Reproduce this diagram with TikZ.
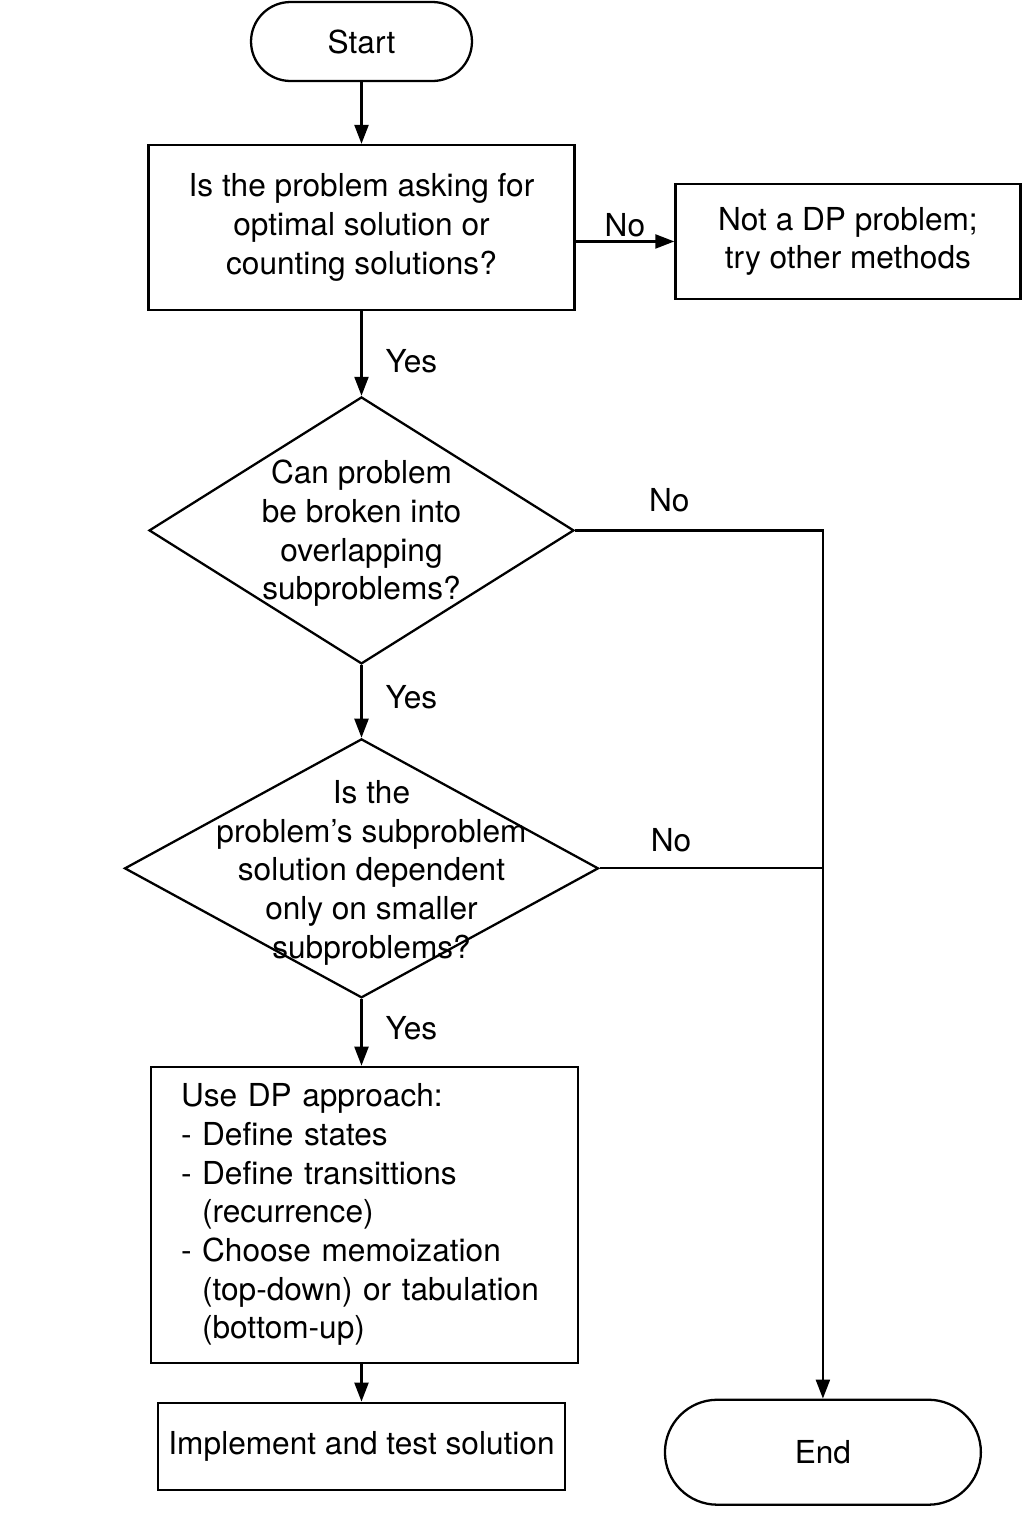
\documentclass[tikz,border=0pt]{standalone}
\usepackage{fontspec}
\setmainfont{TeX Gyre Heros}
\usetikzlibrary{positioning,shapes.geometric,arrows.meta}

\begin{document}
\begin{tikzpicture}[x=0.02cm,y=-0.02cm,line width=1.3pt,
    font=\fontsize{18}{22}\selectfont,
    >={Triangle[length=0.38cm,width=0.28cm]},
    term/.style={draw,rectangle,rounded corners=#1,inner sep=0pt},
    box/.style={draw,rectangle,align=center,inner sep=0pt},
    test/.style={draw,diamond,inner sep=0pt},
    qtext/.style={align=center,inner sep=0pt},
    lbl/.style={inner sep=2pt}]
    \useasboundingbox (0,0) rectangle (1024,1536);
    \node[term=0.79cm,minimum width=4.42cm,minimum height=1.58cm] (start) at (361.5,41.5) {Start};
    \node[box,minimum width=8.52cm,minimum height=3.3cm] (ask) [below of=start,node distance=3.72cm] {Is the problem asking for\\optimal solution or\\counting solutions?};
    \node[box,minimum width=6.9cm,minimum height=2.3cm] (notdp) [right of=ask,node distance=9.73cm,yshift=-0.28cm] {Not a DP problem;\\try other methods};
    \node[test,minimum width=8.5cm,minimum height=5.34cm] (overlap) [below of=ask,node distance=6.06cm] {};
    \node[qtext] (overlaptxt) at (overlap) [yshift=-0.06cm] {Can problem\\be broken into\\overlapping\\subproblems?};
    \node[test,minimum width=9.48cm,minimum height=5.18cm] (smaller) [below of=overlap,node distance=6.76cm] {};
    \node[qtext] (smallertxt) at (smaller) [xshift=0.2cm,yshift=-0.09cm] {Is the\\problem’s subproblem\\solution dependent\\only on smaller\\subproblems?};
    \node[box,align=left,text width=7.34cm,inner xsep=0.6cm,minimum height=5.92cm] (usedp) [below of=smaller,node distance=6.93cm,xshift=0.06cm] {Use DP approach:\\- Define states\\- Define transittions\\\phantom{-}\ (recurrence)\\- Choose memoization\\\phantom{-}\ (top-down) or tabulation\\\phantom{-}\ (bottom-up)};
    \node[box,minimum width=8.14cm,minimum height=1.74cm] (impl) [below of=usedp,node distance=4.63cm,xshift=-0.06cm] {Implement and test solution};
    \node[term=1.05cm,minimum width=6.32cm,minimum height=2.1cm] (endn) [right of=impl,node distance=9.23cm,yshift=-0.12cm] {End};
    \path[->]
    (start) edge (ask)
    (ask.east |- notdp) edge node[lbl,above] {No} (notdp)
    (ask) edge node[lbl,right,pos=0.59,xshift=0.39cm] {Yes} (overlap)
    (overlap) edge node[lbl,right,pos=0.44,xshift=0.39cm] {Yes} (smaller)
    (smaller) edge node[lbl,right,pos=0.44,xshift=0.39cm] {Yes} (usedp.north -| smaller)
    (usedp.south -| impl) edge (impl);
    \draw[->] (overlap) -| node[lbl,above,pos=0.19,yshift=0.28cm] {No} (endn);
    \draw (smaller) -- node[lbl,above,pos=0.32,yshift=0.24cm] {No} (smaller -| endn);
\end{tikzpicture}
\end{document}
